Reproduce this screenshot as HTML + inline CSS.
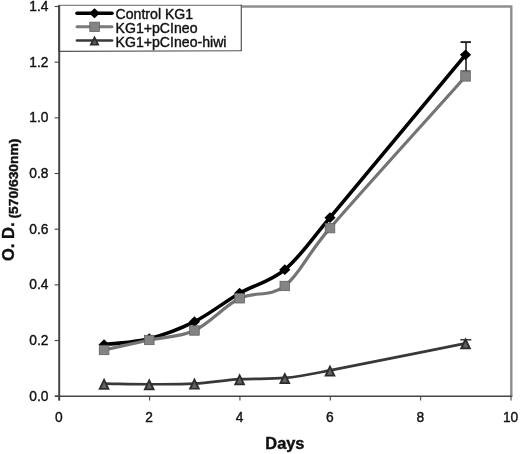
<!DOCTYPE html>
<html><head><meta charset="utf-8"><title>Chart</title>
<style>
html,body{margin:0;padding:0;background:#fff;}
svg{display:block;will-change:transform;filter:blur(0.35px);}
text{font-family:"Liberation Sans",Arial,sans-serif;fill:#111;stroke:#111;stroke-width:0.4px;}
.t{font-size:15px;}
.l{font-size:14.1px;}
.b{font-weight:bold;}
</style></head><body>
<svg width="520" height="454" viewBox="0 0 520 454">
<rect width="520" height="454" fill="#fff"/>
<path d="M59 6.5 H511.3 V396.2" fill="none" stroke="#8e8e8e" stroke-width="2.4"/>
<path d="M59.2 5.2 V400.4" stroke="#464646" stroke-width="2" fill="none"/>
<path d="M55 396.2 H512.3" stroke="#464646" stroke-width="1.6" fill="none"/>
<path d="M54.6 396.20 H59.2" stroke="#444" stroke-width="1.1"/>
<text transform="translate(48.4,400.70) scale(0.92,1)" text-anchor="end" class="t">0.0</text>
<path d="M54.6 340.53 H59.2" stroke="#444" stroke-width="1.1"/>
<text transform="translate(48.4,345.03) scale(0.92,1)" text-anchor="end" class="t">0.2</text>
<path d="M54.6 284.86 H59.2" stroke="#444" stroke-width="1.1"/>
<text transform="translate(48.4,289.36) scale(0.92,1)" text-anchor="end" class="t">0.4</text>
<path d="M54.6 229.19 H59.2" stroke="#444" stroke-width="1.1"/>
<text transform="translate(48.4,233.69) scale(0.92,1)" text-anchor="end" class="t">0.6</text>
<path d="M54.6 173.51 H59.2" stroke="#444" stroke-width="1.1"/>
<text transform="translate(48.4,178.01) scale(0.92,1)" text-anchor="end" class="t">0.8</text>
<path d="M54.6 117.84 H59.2" stroke="#444" stroke-width="1.1"/>
<text transform="translate(48.4,122.34) scale(0.92,1)" text-anchor="end" class="t">1.0</text>
<path d="M54.6 62.17 H59.2" stroke="#444" stroke-width="1.1"/>
<text transform="translate(48.4,66.67) scale(0.92,1)" text-anchor="end" class="t">1.2</text>
<path d="M54.6 6.50 H59.2" stroke="#444" stroke-width="1.1"/>
<text transform="translate(48.4,11.00) scale(0.92,1)" text-anchor="end" class="t">1.4</text>
<path d="M59.20 396.2 V400.6" stroke="#464646" stroke-width="1.1"/>
<text transform="translate(58.80,421.5) scale(0.92,1)" text-anchor="middle" class="t">0</text>
<path d="M149.56 396.2 V400.6" stroke="#464646" stroke-width="1.1"/>
<text transform="translate(149.16,421.5) scale(0.92,1)" text-anchor="middle" class="t">2</text>
<path d="M239.92 396.2 V400.6" stroke="#464646" stroke-width="1.1"/>
<text transform="translate(239.52,421.5) scale(0.92,1)" text-anchor="middle" class="t">4</text>
<path d="M330.28 396.2 V400.6" stroke="#464646" stroke-width="1.1"/>
<text transform="translate(329.88,421.5) scale(0.92,1)" text-anchor="middle" class="t">6</text>
<path d="M420.64 396.2 V400.6" stroke="#464646" stroke-width="1.1"/>
<text transform="translate(420.24,421.5) scale(0.92,1)" text-anchor="middle" class="t">8</text>
<path d="M511.00 396.2 V400.6" stroke="#464646" stroke-width="1.1"/>
<text transform="translate(510.60,421.5) scale(0.92,1)" text-anchor="middle" class="t">10</text>
<path d="M466.02 42 V71" stroke="#222" stroke-width="1.6" fill="none"/>
<path d="M460.52 42.1 H470.92" stroke="#222" stroke-width="1.9" fill="none"/>
<path d="M104.08 344.70 C119.14 342.71 134.20 342.55 149.26 338.72 C164.32 334.89 179.38 329.30 194.44 321.71 C209.50 314.13 224.56 301.87 239.62 293.21 C254.68 284.54 269.74 282.31 284.80 269.71 C299.86 257.12 307.79 244.02 329.98 217.63 C360.10 181.82 420.34 109.11 465.52 54.85" fill="none" stroke="#000" stroke-width="3.6" stroke-linejoin="round"/>
<path d="M104.08 339.30 L109.68 344.70 L104.08 350.10 L98.48 344.70Z" fill="#000"/>
<path d="M149.26 333.32 L154.86 338.72 L149.26 344.12 L143.66 338.72Z" fill="#000"/>
<path d="M194.44 316.31 L200.04 321.71 L194.44 327.11 L188.84 321.71Z" fill="#000"/>
<path d="M239.62 287.81 L245.22 293.21 L239.62 298.61 L234.02 293.21Z" fill="#000"/>
<path d="M284.80 264.31 L290.40 269.71 L284.80 275.11 L279.20 269.71Z" fill="#000"/>
<path d="M329.98 212.23 L335.58 217.63 L329.98 223.03 L324.38 217.63Z" fill="#000"/>
<path d="M465.52 49.45 L471.12 54.85 L465.52 60.25 L459.92 54.85Z" fill="#000"/>
<path d="M104.08 349.99 C119.14 346.65 134.20 343.22 149.26 339.97 C164.32 336.72 179.38 337.45 194.44 330.51 C209.50 323.56 224.56 305.72 239.62 298.30 C254.68 290.88 269.74 297.67 284.80 285.97 C299.86 274.27 306.01 255.92 329.98 228.13 C360.10 193.21 420.34 127.01 465.52 76.45" fill="none" stroke="#747474" stroke-width="3.2" stroke-linejoin="round"/>
<rect x="99.28" y="345.29" width="9.60" height="9.40" fill="#848484" stroke="#626262" stroke-width="0.8"/>
<rect x="144.46" y="335.27" width="9.60" height="9.40" fill="#848484" stroke="#626262" stroke-width="0.8"/>
<rect x="189.64" y="325.81" width="9.60" height="9.40" fill="#848484" stroke="#626262" stroke-width="0.8"/>
<rect x="234.82" y="293.60" width="9.60" height="9.40" fill="#848484" stroke="#626262" stroke-width="0.8"/>
<rect x="280.00" y="281.27" width="9.60" height="9.40" fill="#848484" stroke="#626262" stroke-width="0.8"/>
<rect x="325.18" y="223.43" width="9.60" height="9.40" fill="#848484" stroke="#626262" stroke-width="0.8"/>
<rect x="460.72" y="71.75" width="9.60" height="9.40" fill="#848484" stroke="#626262" stroke-width="0.8"/>
<path d="M460.42 70.9 H470.72" stroke="#444" stroke-width="1.2" fill="none"/>
<path d="M104.08 383.67 C119.14 383.86 134.20 384.24 149.26 384.23 C164.32 384.22 179.38 384.45 194.44 383.62 C209.50 382.78 224.56 380.17 239.62 379.22 C254.68 378.27 269.74 379.41 284.80 377.94 C299.86 376.47 307.49 374.73 329.98 370.42 C360.10 364.65 420.34 352.35 465.52 343.31" fill="none" stroke="#383838" stroke-width="2.7" stroke-linejoin="round"/>
<path d="M460.32 339.8 H471.32" stroke="#2a2a2a" stroke-width="1.4"/>
<path d="M104.08 377.67 L109.88 389.67 L98.28 389.67Z" fill="#2c2c2c"/><path d="M104.08 381.87 L106.88 387.97 L101.28 387.97Z" fill="#636363"/>
<path d="M149.26 378.23 L155.06 390.23 L143.46 390.23Z" fill="#2c2c2c"/><path d="M149.26 382.43 L152.06 388.53 L146.46 388.53Z" fill="#636363"/>
<path d="M194.44 377.62 L200.24 389.62 L188.64 389.62Z" fill="#2c2c2c"/><path d="M194.44 381.82 L197.24 387.92 L191.64 387.92Z" fill="#636363"/>
<path d="M239.62 373.22 L245.42 385.22 L233.82 385.22Z" fill="#2c2c2c"/><path d="M239.62 377.42 L242.42 383.52 L236.82 383.52Z" fill="#636363"/>
<path d="M284.80 371.94 L290.60 383.94 L279.00 383.94Z" fill="#2c2c2c"/><path d="M284.80 376.14 L287.60 382.24 L282.00 382.24Z" fill="#636363"/>
<path d="M329.98 364.42 L335.78 376.42 L324.18 376.42Z" fill="#2c2c2c"/><path d="M329.98 368.62 L332.78 374.72 L327.18 374.72Z" fill="#636363"/>
<path d="M465.52 337.31 L471.32 349.31 L459.72 349.31Z" fill="#2c2c2c"/><path d="M465.52 341.51 L468.32 347.61 L462.72 347.61Z" fill="#636363"/>
<rect x="59.2" y="5.6" width="182.1" height="45.4" fill="#fff"/>
<path d="M58.4 5.3 H242" stroke="#858585" stroke-width="1.3"/>
<path d="M241.3 4.8 V51.1" stroke="#555" stroke-width="1.2"/>
<path d="M59.2 51.4 L241.9 50.7" stroke="#555" stroke-width="1.1"/>
<path d="M59.2 5.2 V52" stroke="#464646" stroke-width="2" fill="none"/>
<path d="M77 13.3 H112" stroke="#000" stroke-width="3.5" stroke-linecap="round"/>
<path d="M94.50 8.30 L99.90 13.30 L94.50 18.30 L89.10 13.30Z" fill="#000"/>
<path d="M77 26.8 H112" stroke="#7a7a7a" stroke-width="3" stroke-linecap="round"/>
<rect x="89.80" y="22.15" width="9.60" height="9.40" fill="#848484" stroke="#626262" stroke-width="0.8"/>
<path d="M77 40.5 H112" stroke="#383838" stroke-width="2.7" stroke-linecap="round"/>
<path d="M94.50 35.50 L99.60 45.50 L89.40 45.50Z" fill="#2c2c2c"/><path d="M94.50 39.70 L96.60 43.80 L92.40 43.80Z" fill="#636363"/>
<text x="115.6" y="19.0" class="l">Control KG1</text>
<text x="115.6" y="32.9" class="l">KG1+pCIneo</text>
<text x="115.6" y="46.6" class="l">KG1+pCIneo-hiwi</text>
<text transform="translate(284.9,448.9) scale(1.05,1)" text-anchor="middle" class="b" font-size="15.6">Days</text>
<text transform="translate(13.8,261) rotate(-90)" class="b" font-size="16.5">O. D.</text>
<text transform="translate(17.7,218.6) rotate(-90) scale(1.1,1)" class="b" font-size="12.6">(570/630nm)</text>
</svg>
</body></html>
